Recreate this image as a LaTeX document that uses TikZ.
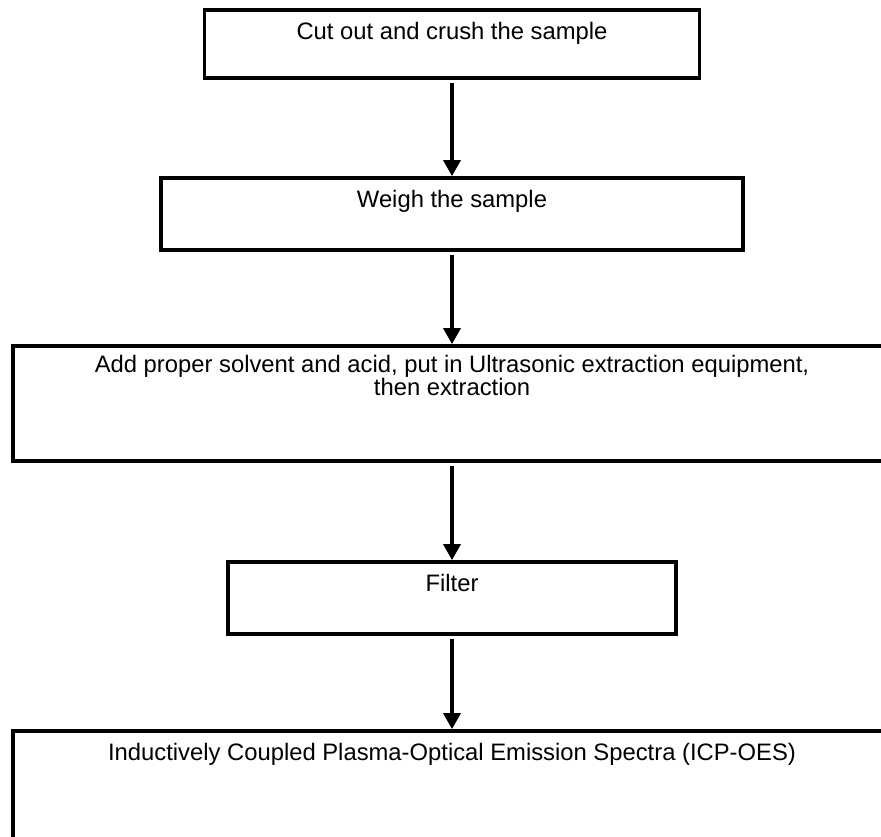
\documentclass[tikz,border=0pt]{standalone}
\usepackage{fontspec}
\setmainfont{Liberation Sans}
\usetikzlibrary{arrows.meta,calc}
\tikzset{
  stepbox/.style={draw=black, line width=3.8pt, fill=white, inner sep=0pt, rectangle},
  txt/.style={font=\fontsize{23.8}{23}\selectfont, inner sep=0pt, align=center},
  arr/.style={line width=3.6pt, shorten <=3pt, -{Triangle[width=17pt,length=16pt]}}
}
\begin{document}
\begin{tikzpicture}[x=1pt,y=-1pt]
\useasboundingbox (0,0) rectangle (881,836);
\clip (0,0) rectangle (881,836);
\fill[white] (0,0) rectangle (881,836);
\node[stepbox, minimum width=495pt, minimum height=68pt] (b1) at (452,44) {};
\node[txt, anchor=base] (t1) at ($(b1.north)+(0,31)$) {Cut out and crush the sample};
\node[stepbox, minimum width=582pt, minimum height=72pt] (b2) at (452,214) {};
\node[txt, anchor=base] (t2) at ($(b2.north)+(0,31)$) {Weigh the sample};
\node[stepbox, minimum width=878pt, minimum height=115pt] (b3) at (452,403.5) {};
\node[txt, anchor=north] (t3) at ($(b3.north)+(0,11)$) {Add proper solvent and acid, put in Ultrasonic extraction equipment,\\ then extraction};
\node[stepbox, minimum width=448pt, minimum height=72pt] (b4) at (452,598) {};
\node[txt, anchor=base] (t4) at ($(b4.north)+(0,31)$) {Filter};
\node[stepbox, minimum width=878pt, minimum height=129pt] (b5) at (452,795.5) {};
\node[txt, anchor=base] (t5) at ($(b5.north)+(0,31)$) {Inductively Coupled Plasma-Optical Emission Spectra (ICP-OES)};
\draw[arr] (b1.south) -- (b2.north);
\draw[arr] (b2.south) -- (b3.north);
\draw[arr] (b3.south) -- (b4.north);
\draw[arr] (b4.south) -- (b5.north);
\end{tikzpicture}
\end{document}
